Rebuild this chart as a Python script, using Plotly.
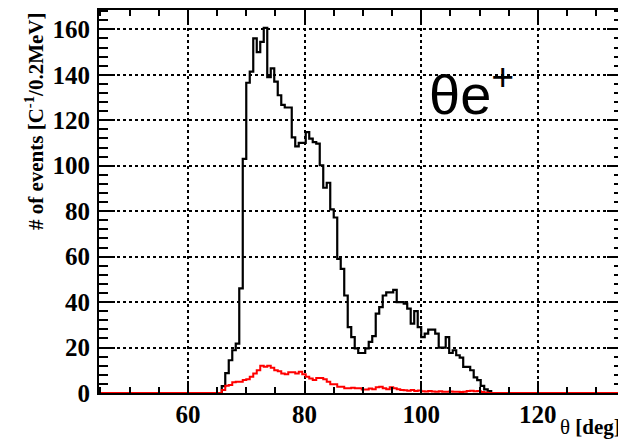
import plotly.graph_objects as go

# ---- data ----
theta_min = 44.8          # deg, low edge of first histogram bin
bin_width = 0.6           # deg
n_bins = 150
signal_start = 65.8       # deg, low edge of first listed bin below

black_counts = [3, 8.7, 14.4, 18.8, 21.7, 46, 103, 136.5, 141.4, 156,
                150, 154.5, 160.6, 139, 142.8, 137, 131, 126.8, 125.6, 125.6,
                112.5, 108.5, 110, 110, 114.8, 111.9, 110.4, 109.7, 100.2, 90.3,
                92.5, 80.8, 77.2, 59, 54.6, 42.9, 29, 24.6, 19.6, 17.6,
                17.6, 19.6, 22.5, 25, 34.9, 37.8, 42.9, 44.3, 44.3, 45.4,
                40, 40, 39.3, 37.1, 30.5, 36, 29, 24.6, 26.1, 27.9,
                27.9, 26.1, 20, 20, 24.6, 17.6, 18.8, 16.6, 15.6, 11.5,
                11.5, 10, 6.9, 5.7, 3.1, 1.6, 0.8]

red_counts = [1.3, 3.2, 3.5, 4.7, 5, 5, 5.7, 6.1, 7.1, 8.6,
              10, 12, 11.5, 12, 11.1, 10, 9.6, 8.6, 8.2, 9.1,
              9.1, 8.6, 9.3, 8.2, 7.1, 6.4, 5.7, 6.6, 6.6, 6.1,
              5, 3.8, 3.8, 2.8, 2.8, 2.1, 2.1, 2.3, 2.1, 2.1,
              1.5, 1.5, 2.0, 1.6, 2.5, 2.8, 2.1, 1.7, 2.5, 2.1,
              1.7, 1.3, 1.2, 1.0, 1.3, 0.9, 1.1, 0.8, 0.7, 0.9,
              0.7, 0.6, 0.8, 0.6, 0.5, 0.7, 0.6, 0.5, 0.4, 0.5,
              0.9, 1.0, 0.8, 0.9, 0.4, 0.2]

x_tick_vals = [60, 80, 100, 120]
y_tick_vals = [0, 20, 40, 60, 80, 100, 120, 140, 160]


def full_hist(counts):
    full = [0.0] * n_bins
    off = round((signal_start - theta_min) / bin_width)
    for i, c in enumerate(counts):
        full[off + i] = c
    edges = [theta_min + k * bin_width for k in range(n_bins + 1)]
    return edges, full + [full[-1]]


fig = go.Figure()
ex, ey = full_hist(black_counts)
fig.add_trace(go.Scatter(x=ex, y=ey, mode="lines", line=dict(color="black", width=2.2, shape="hv"),
                         showlegend=False, hoverinfo="skip"))
rx, ry = full_hist(red_counts)
fig.add_trace(go.Scatter(x=rx, y=ry, mode="lines", line=dict(color="#ff0000", width=2, shape="hv"),
                         showlegend=False, hoverinfo="skip"))

tickfont = dict(family="Liberation Serif", size=25, color="black", weight="bold")

fig.update_layout(
    width=618, height=432,
    margin=dict(l=91, r=3, t=0, b=47),
    plot_bgcolor="white", paper_bgcolor="white",
    xaxis=dict(range=[44.75, 134.6], tickmode="array", tickvals=x_tick_vals,
               ticks="inside", ticklen=12, tickwidth=1.5, tickcolor="black",
               showline=True, linewidth=2, linecolor="black", mirror="ticks",
               showgrid=True, gridcolor="black", griddash="dot", gridwidth=1.5,
               zeroline=False, tickfont=tickfont, ticklabelstandoff=-2,
               minor=dict(tick0=0, dtick=5, ticks="inside", ticklen=6, tickwidth=1.5,
                          tickcolor="black", showgrid=False)),
    yaxis=dict(range=[0, 168.5], tickmode="array", tickvals=y_tick_vals,
               ticks="inside", ticklen=16, tickwidth=1.5, tickcolor="black",
               showline=True, linewidth=2, linecolor="black", mirror="ticks",
               showgrid=True, gridcolor="black", griddash="dot", gridwidth=1.5,
               zeroline=False, tickfont=tickfont, ticklabelstandoff=2,
               minor=dict(tick0=0, dtick=4, ticks="inside", ticklen=9, tickwidth=1.5,
                          tickcolor="black", showgrid=False)),
    annotations=[
        dict(text="# of events [C<sup>-1</sup>/0.2MeV]", textangle=-90,
             xref="paper", yref="paper", x=-0.124, y=0.71, xanchor="center", yanchor="middle",
             showarrow=False, font=dict(family="Liberation Serif", size=21, color="black", weight="bold")),
        dict(text="θ <b>[deg]</b>", xref="paper", yref="paper", x=1.0, y=-0.088,
             xanchor="right", yanchor="middle", showarrow=False,
             font=dict(family="Liberation Serif", size=21, color="black")),
        dict(text="θe<sup>+</sup>", xref="paper", yref="paper", x=0.71, y=0.79,
             xanchor="center", yanchor="middle", showarrow=False,
             font=dict(family="Liberation Sans", size=56, color="black")),
    ],
)

fig.write_html("out.html")
